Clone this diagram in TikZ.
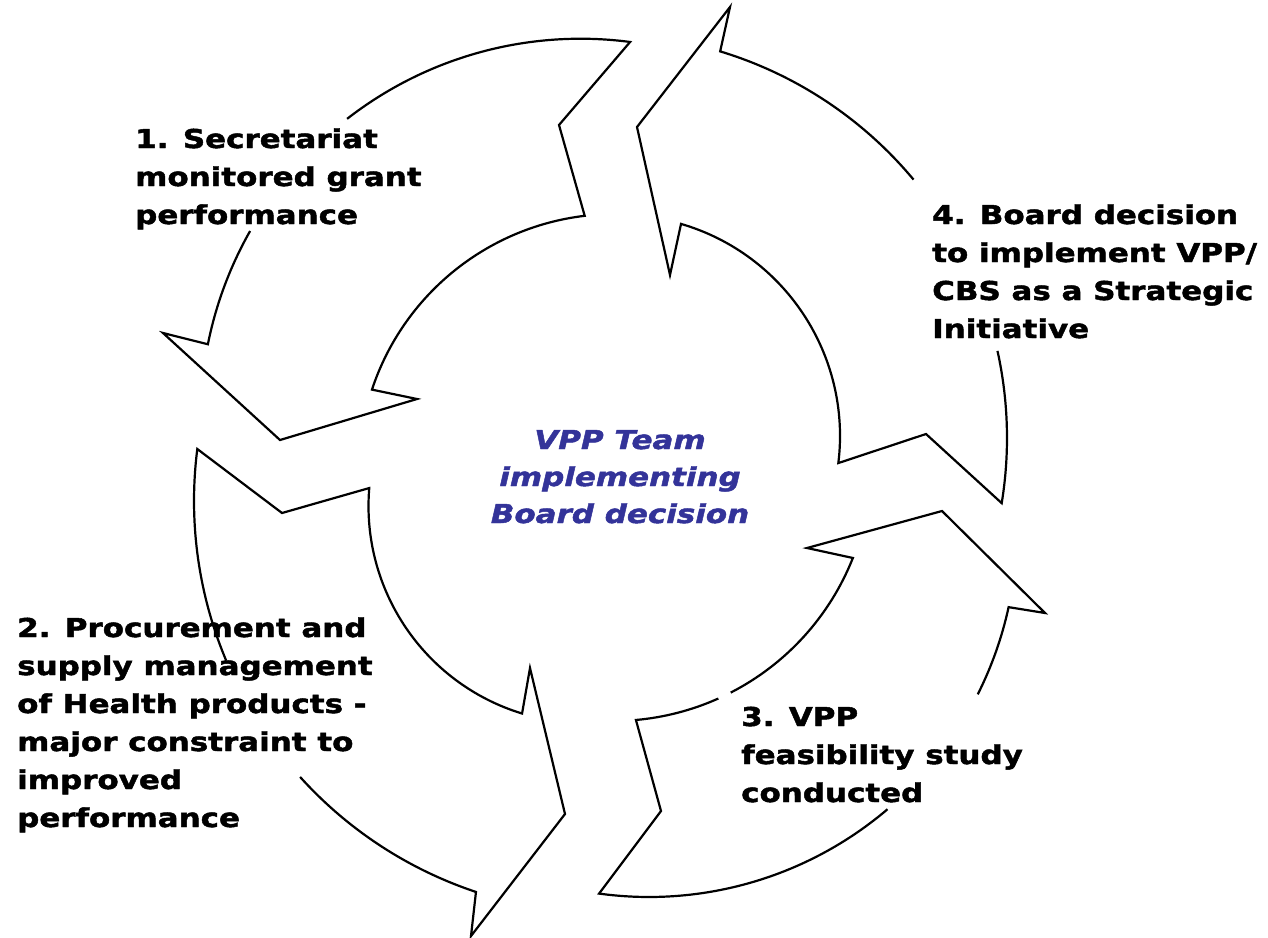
\documentclass[tikz,border=0pt]{standalone}
\usepackage{fontspec}
\setmainfont{DejaVu Sans}[FakeStretch=1.19,FakeBold=1.8]
\definecolor{vppblue}{HTML}{333399}
\tikzset{
  arr/.style={draw=black, line width=2.2pt, line join=miter},
  lbl/.style={anchor=base west, inner sep=0pt, font=\fontsize{26}{38}\selectfont\bfseries},
  ctr/.style={anchor=base, inner sep=0pt, text=vppblue, font=\fontsize{26}{37}\selectfont\bfseries\itshape}
}
\begin{document}
\begin{tikzpicture}[x=1pt,y=-1pt]
\useasboundingbox (0,0) rectangle (1268,937);

% Arrow 1 (top left, pointing down-left)
\draw[arr] ([shift={(209.6:380)}]580.5,418.7) arc[start angle=209.6, end angle=191.3, radius=380]
  -- (163,333) -- (280,440) -- (417,399)
  -- ([shift={(198.3:256)}]615,470) arc[start angle=198.3, end angle=263.2, radius=256]
  -- (559,125)
  -- ([shift={(277.5:380)}]580.5,418.7) arc[start angle=277.5, end angle=232.1, radius=380];

% Arrow 4 (top right, pointing up-left)
\draw[arr] ([shift={(-39.77:404)}]603,438) arc[start angle=-39.77, end angle=-73.14, radius=404]
  -- (730,7) -- (637,127) -- (670,275)
  -- ([shift={(-73.7:221)}]619,436) arc[start angle=-73.7, end angle=7.03, radius=221]
  -- (926,434)
  -- ([shift={(9.28:404)}]603,438) arc[start angle=9.28, end angle=-12.45, radius=404];

% Arrow 2 (bottom left, pointing down-right)
\draw[arr] ([shift={(157.2:412)}]606,501) arc[start angle=157.2, end angle=187.25, radius=412]
  -- (282,513)
  -- ([shift={(184.75:217)}]585.5,506) arc[start angle=184.75, end angle=107.0, radius=217]
  -- (530,668) -- (565,814) -- (471,936)
  -- ([shift={(108.4:412)}]606,501) arc[start angle=108.4, end angle=137.95, radius=412];

% Arrow 3 (bottom right, pointing up-right)
\draw[arr] ([shift={(65.9:258)}]613,463) arc[start angle=65.9, end angle=84.9, radius=258]
  -- (661,811)
  -- ([shift={(97.8:368)}]649,529) arc[start angle=97.8, end angle=49.6, radius=368];
\draw[arr] ([shift={(62.85:258)}]613,463) arc[start angle=62.85, end angle=21.6, radius=258]
  -- (807,548) -- (942,511) -- (1045,613)
  -- ([shift={(12.26:368)}]649,529) arc[start angle=12.26, end angle=26.7, radius=368];

% Labels
\node[lbl] (l1) at (135,148) {\vtop{\halign{#\hfil\cr 1. Secretariat\cr monitored grant\cr performance\cr}}};
\node[lbl] (l2) at (17,637) {\vtop{\halign{#\hfil\cr 2. Procurement and\cr supply management\cr of Health products -\cr major constraint to\cr improved\cr performance\cr}}};
\node[lbl] (l3) at (741,726) {\vtop{\halign{#\hfil\cr 3. VPP\cr feasibility study\cr conducted\cr}}};
\node[lbl] (l4) at (932,224) {\vtop{\halign{#\hfil\cr 4. Board decision\cr to implement VPP/\cr CBS as a Strategic\cr Initiative\cr}}};
\node[ctr] (c) at (620,449) {\vtop{\halign{\hfil#\hfil\cr VPP Team\cr implementing\cr Board decision\cr}}};
\end{tikzpicture}
\end{document}
